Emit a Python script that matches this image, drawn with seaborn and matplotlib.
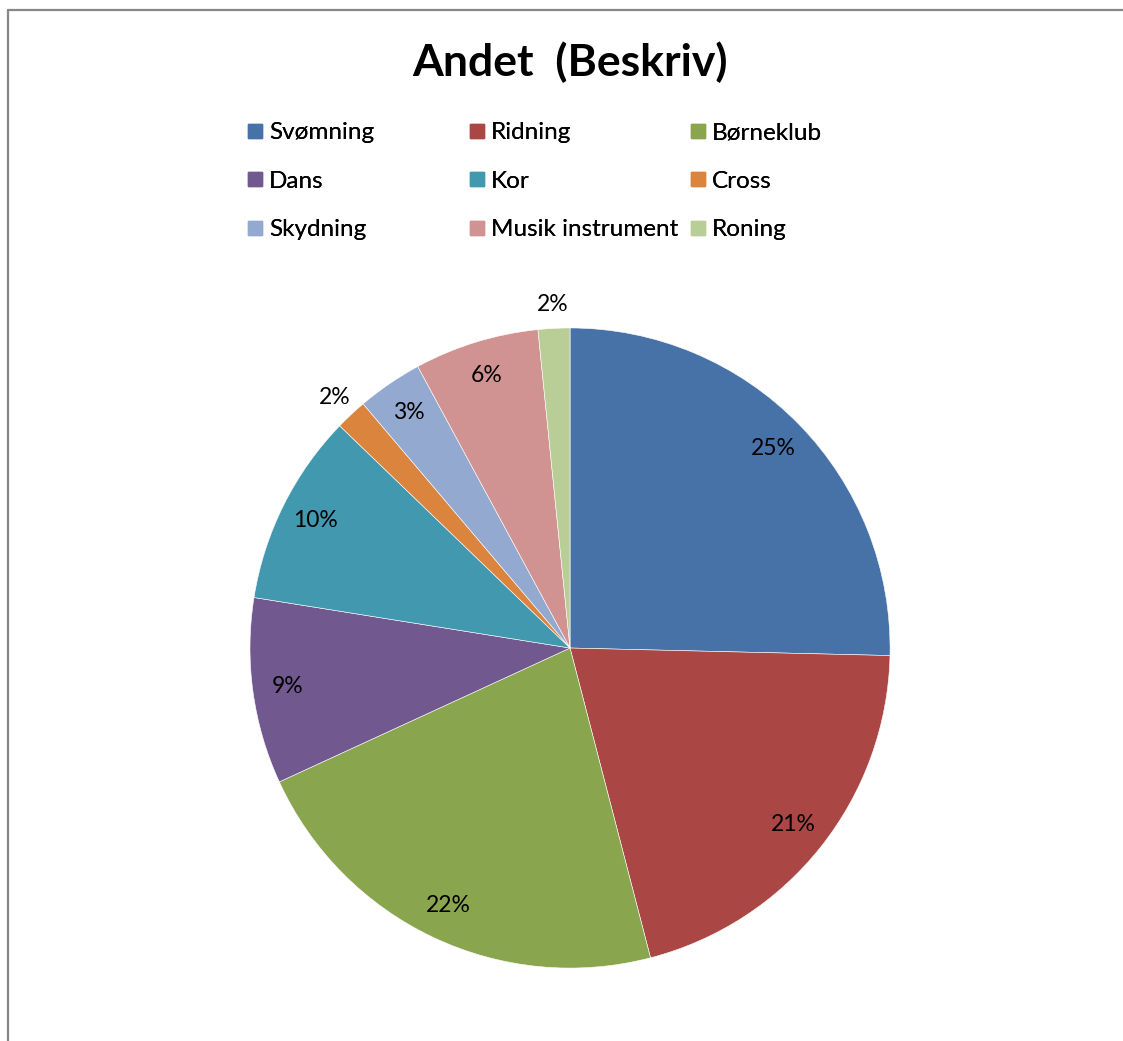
import matplotlib
matplotlib.use("Agg")
import matplotlib.pyplot as plt
import seaborn as sns
import numpy as np
from matplotlib.lines import Line2D

categories = ["Svømning", "Ridning", "Børneklub", "Dans", "Kor", "Cross",
              "Skydning", "Musik instrument", "Roning"]
shares = [25.4, 20.6, 22.2, 9.4, 9.7, 1.6, 3.3, 6.3, 1.6]
colors = ["#4672A8", "#AA4643", "#89A54E", "#71588F", "#4198AF", "#DB843D",
          "#93A9CF", "#D19392", "#B9CD96"]

sns.set_theme(style="white")
plt.rcParams["font.family"] = ["Lato", "DejaVu Sans"]
plt.rcParams["text.color"] = "black"

fig = plt.figure(figsize=(11.23, 10.41), dpi=100)
fig.patch.set_facecolor("white")

# outer chart frame (only left and top edges are inside the crop)
fx, fy = 8 / 1123, 1 - 9.5 / 1041
fig.add_artist(Line2D([fx, fx], [-0.1, fy], transform=fig.transFigure,
                      color="#878787", linewidth=1.6))
fig.add_artist(Line2D([fx, 1.1], [fy, fy], transform=fig.transFigure,
                      color="#878787", linewidth=1.6))

ax = fig.add_axes([0.2226, 0.07, 0.570, 0.615])
wedges, texts, autotexts = ax.pie(
    shares, colors=sns.color_palette(colors), startangle=90, counterclock=False,
    autopct="%.0f%%", pctdistance=0.89,
    wedgeprops=dict(edgecolor="white", linewidth=0.4),
    textprops=dict(fontsize=16.5, color="black"))
ax.set_xlim(-1, 1)
ax.set_ylim(-1, 1)
ax.set_aspect("equal")

# small slices get their labels outside
for w, t, v in zip(wedges, autotexts, shares):
    if v < 2:
        mid = np.deg2rad((w.theta1 + w.theta2) / 2)
        t.set_position((1.075 * np.cos(mid), 1.075 * np.sin(mid)))

fig.text(570 / 1123, 1 - 62 / 1041, "Andet  (Beskriv)", ha="center", va="center",
         fontsize=32, fontweight="bold", color="black")

# legend: three columns at fixed positions
col_x = [247 / 1123, 469 / 1123, 690 / 1123]
for c in range(3):
    idx = [c, c + 3, c + 6]
    handles = [Line2D([], [], marker="s", linestyle="none", markersize=10.5,
                      markerfacecolor=colors[i], markeredgecolor=colors[i]) for i in idx]
    leg = fig.legend(handles, [categories[i] for i in idx], loc="upper left",
                     bbox_to_anchor=(col_x[c], 1 - 122 / 1041), frameon=False,
                     fontsize=17.5, labelspacing=1.14, handlelength=0.64,
                     handletextpad=0.26, borderpad=0, borderaxespad=0)
    for t in leg.get_texts():
        t.set_color("black")
    fig.add_artist(leg)

fig.savefig("out.png", dpi=100, facecolor="white")
